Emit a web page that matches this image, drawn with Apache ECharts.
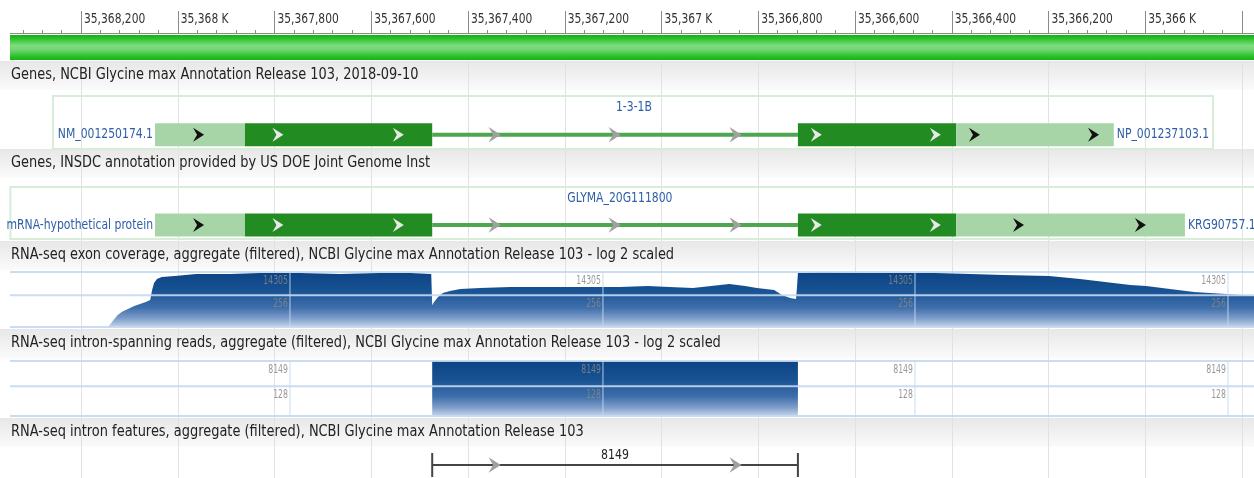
<!DOCTYPE html>
<html>
<head>
<meta charset="utf-8">
<script src="https://cdn.jsdelivr.net/npm/echarts@6/dist/echarts.min.js"></script>
<style>
  html, body { margin: 0; padding: 0; background: #fff; }
  #chart { width: 1254px; height: 478px; }
</style>
</head>
<body>
<div id="chart"></div>
<script>
// ---- data ----
const VIEW_MIN = 35365600;   // right edge (axis is inverted)
const VIEW_MAX = 35368400;   // left edge
const RULER_LABELS = [35368200, 35368000, 35367800, 35367600, 35367400, 35367200,
    35367000, 35366800, 35366600, 35366400, 35366200, 35366000];

const TRACK_TITLES = [
    'Genes, NCBI Glycine max Annotation Release 103, 2018-09-10',
    'Genes, INSDC annotation provided by US DOE Joint Genome Inst',
    'RNA-seq exon coverage, aggregate (filtered), NCBI Glycine max Annotation Release 103 - log 2 scaled',
    'RNA-seq intron-spanning reads, aggregate (filtered), NCBI Glycine max Annotation Release 103 - log 2 scaled',
    'RNA-seq intron features, aggregate (filtered), NCBI Glycine max Annotation Release 103'
];

// gene models: [from, to, kind]
const GENE1_PARTS = [
    [35368047, 35367861, 'utr'],
    [35367861, 35367474, 'cds'],
    [35367474, 35366718, 'intron'],
    [35366718, 35366391, 'cds'],
    [35366391, 35366065, 'utr']
];
const GENE1_ARROWS = [35367958, 35367794, 35367545, 35367346, 35367098, 35366848,
    35366681, 35366435, 35366354, 35366108];
const GENE1_LABELS = ['1-3-1B', 'NM_001250174.1', 'NP_001237103.1'];
const GENE1_NAME_AT = 35367057;
const GENE1_BOX = [35368258, 35365860];

const GENE2_PARTS = [
    [35368047, 35367861, 'utr'],
    [35367861, 35367474, 'cds'],
    [35367474, 35366718, 'intron'],
    [35366718, 35366391, 'cds'],
    [35366391, 35365918, 'utr']
];
const GENE2_ARROWS = [35367958, 35367794, 35367545, 35367346, 35367098, 35366848,
    35366681, 35366435, 35366263, 35366011];
const GENE2_LABELS = ['GLYMA_20G111800', 'mRNA-hypothetical protein', 'KRG90757.1'];
const GENE2_NAME_AT = 35367086;
const GENE2_BOX = [35368346, 35365600];

// exon coverage (reads, log2 axis)
const COV_POS = [35368144, 35368140, 35368134, 35368124, 35368115, 35368103, 35368090,
    35368078, 35368066, 35368057, 35368053, 35368049, 35368043, 35368033, 35368006,
    35367962, 35367892, 35367830, 35367747, 35367665, 35367582, 35367520, 35367476,
    35367474, 35367470, 35367462, 35367452, 35367437, 35367416, 35367375, 35367313,
    35367210, 35367127, 35367086, 35367028, 35366984, 35366935, 35366860, 35366827,
    35366803, 35366767, 35366751, 35366734, 35366722, 35366720, 35366718, 35366668,
    35366569, 35366501, 35366435, 35366362, 35366292, 35366199, 35366135, 35366083,
    35366031, 35365998, 35365949, 35365899, 35365833, 35365775, 35365700];
const COV_DEPTH = [1, 1, 3, 8, 14, 23, 39,
    55, 77, 110, 625, 2100, 4230, 5990, 7130,
    10100, 10100, 12000, 12000, 10100, 12000, 12000, 10100,
    46, 77, 185, 371, 525, 743, 885, 1050,
    1050, 1050, 1050, 1250, 1050, 885, 1770, 1250,
    885, 625, 262, 155, 130, 885, 12000, 13500,
    12000, 12000, 12000, 10100, 8490, 7130, 4230, 2515,
    1490, 1250, 743, 441, 312, 220, 215];
const COV_SCALE = [14305, 256];
const JUNC_SCALE = [8149, 128];
const SCALE_COLS = [35367768, 35367121, 35366476, 35365829];

// intron / junction
const INTRON = [35367474, 35366718];
const INTRON_READS = 8149;
const INTRON_ARROWS = [35367346, 35366848];

// ---- layout / style ----
const FONT = '"Liberation Sans Narrow", "Arial Narrow", "DejaVu Sans Condensed", sans-serif';
const PX_PER_BP = 96.75 / 200;
const GRID_LEFT = 81 - (VIEW_MAX - 35368200) * PX_PER_BP;
const GRID_WIDTH = (VIEW_MAX - VIEW_MIN) * PX_PER_BP;
const ROW_Y = 0.27, NAME_Y = 0.78;
const BAR_H = 23, INTRON_H = 4;
const PART_COLORS = { utr: '#a8d5a8', cds: '#228b22', intron: '#4ea64e' };
const CHEVRON_COLORS = { utr: '#111', cds: '#e8e8e8', intron: '#a0a0a0' };
const LINK_BLUE = '#2f5fa6';
const FRAME = 'rgba(196,216,240,0.9)';

const chart = echarts.init(document.getElementById('chart'));

function chevron(x, y, color, k) {
    k = k || 1;
    return {
        type: 'polygon',
        shape: { points: [[x + 6 * k, y], [x - 5 * k, y - 7 * k], [x - 1 * k, y], [x - 5 * k, y + 7 * k]] },
        style: { fill: color }
    };
}

function posLabel(v) {
    return v % 1000 === 0 ? (v / 1000).toLocaleString('en-US') + ' K' : v.toLocaleString('en-US');
}

function geneRenderer(parts, arrows, box, nameAt, labels) {
    return function (params, api) {
        const px = bp => api.coord([bp, 0])[0];
        const py = v => api.coord([VIEW_MAX, v])[1];
        const yRow = py(ROW_Y);
        const kids = [{
            type: 'rect',
            shape: { x: px(box[0]), y: py(1), width: px(box[1]) - px(box[0]), height: py(0) - py(1) },
            style: { fill: 'none', stroke: '#d8edd8', lineWidth: 2 }
        }];
        parts.forEach(([s, e, kind]) => {
            const h = kind === 'intron' ? INTRON_H : BAR_H;
            kids.push({
                type: 'rect',
                shape: { x: px(s), y: yRow - h / 2, width: px(e) - px(s), height: h },
                style: { fill: PART_COLORS[kind] }
            });
        });
        arrows.forEach(bp => {
            const part = parts.find(p => bp <= p[0] && bp >= p[1]);
            kids.push(chevron(px(bp), yRow, CHEVRON_COLORS[part[2]], part[2] === 'intron' ? 1.1 : 1));
        });
        const txt = { font: '14px ' + FONT, fill: LINK_BLUE, verticalAlign: 'middle' };
        const label = (x, y, text, align) => ({
            type: 'text', x: x, y: y, scaleX: 0.86,
            style: Object.assign({ text: text, align: align }, txt)
        });
        kids.push(label(px(nameAt), py(NAME_Y), labels[0], 'center'));
        kids.push(label(px(parts[0][0]) - 2, yRow, labels[1], 'right'));
        kids.push(label(px(parts[parts.length - 1][1]) + 3, yRow, labels[2], 'left'));
        return { type: 'group', children: kids };
    };
}

function scaleFrame(idx, levels) {
    return {
        type: 'custom', xAxisIndex: idx, yAxisIndex: idx, z: 5, silent: true,
        data: SCALE_COLS.map(c => [c, levels[0]]),
        renderItem(params, api) {
            const x = api.coord([api.value(0), 1])[0];
            const yTop = api.coord([VIEW_MAX, levels[0]])[1];
            const yMid = api.coord([VIEW_MAX, levels[1]])[1];
            const yBot = api.coord([VIEW_MAX, 1])[1];
            const lbl = { font: '12px ' + FONT, fill: 'rgba(135,135,135,0.85)', align: 'right', verticalAlign: 'top' };
            const kids = [
                { type: 'line', shape: { x1: x, y1: yTop, x2: x, y2: yBot }, style: { stroke: FRAME, lineWidth: 1 } },
                { type: 'text', x: x - 2, y: yTop + 3, scaleX: 0.72, style: Object.assign({ text: String(levels[0]) }, lbl) },
                { type: 'text', x: x - 2, y: yMid + 3, scaleX: 0.72, style: Object.assign({ text: String(levels[1]) }, lbl) }
            ];
            if (params.dataIndex === 0) {
                [yTop, yMid, yBot].forEach(y => kids.push({
                    type: 'line', shape: { x1: 10, y1: y, x2: 1254, y2: y },
                    style: { stroke: FRAME, lineWidth: 2 }
                }));
            }
            return { type: 'group', children: kids };
        }
    };
}

const blueFill = () => new echarts.graphic.LinearGradient(0, 0, 0, 1, [
    { offset: 0, color: '#0b4383' },
    { offset: 0.35, color: '#1a5394' },
    { offset: 0.65, color: '#3f6fab' },
    { offset: 0.85, color: '#809fcb' },
    { offset: 1, color: '#c6d5ea' }
]);

// grids: ruler, background, gene1, gene2, coverage, junctions, intron features
const GRID_ROWS = [[33, 27], [61, 417], [96, 53], [187, 52], [272, 55], [361, 55], [447, 31]];
const grids = GRID_ROWS.map(([top, height]) => ({
    left: GRID_LEFT, width: GRID_WIDTH, top: top, height: height,
    outerBoundsMode: 'none', containLabel: false
}));

const baseX = {
    type: 'value', min: VIEW_MIN, max: VIEW_MAX, inverse: true, interval: 200,
    axisLine: { show: false, onZero: false }, axisTick: { show: false }, axisLabel: { show: false },
    splitLine: { show: false }
};
const xAxes = GRID_ROWS.map((_, i) => Object.assign({}, baseX, { gridIndex: i }));
xAxes[0] = Object.assign({}, baseX, {
    gridIndex: 0, position: 'top',
    axisLine: { show: true, onZero: false, lineStyle: { color: '#8a8a8a', width: 1 } },
    axisTick: { show: true, length: 22, lineStyle: { color: '#8a8a8a' } },
    minorTick: { show: true, splitNumber: 5, length: 3, lineStyle: { color: '#8a8a8a' } },
    axisLabel: { show: false }
});
xAxes[1] = Object.assign({}, baseX, {
    gridIndex: 1,
    splitLine: { show: true, lineStyle: { color: '#e2e2e2', width: 1 } }
});

const yAxes = GRID_ROWS.map((_, i) => ({ type: 'value', gridIndex: i, min: 0, max: 1, show: false }));
yAxes[4] = { type: 'log', logBase: 2, gridIndex: 4, min: 1, max: COV_SCALE[0], show: false };
yAxes[5] = { type: 'log', logBase: 2, gridIndex: 5, min: 1, max: JUNC_SCALE[0], show: false };

// header bands + green bar
const HEADER_TOPS = [61, 149, 241, 329, 418];
const graphics = [];
HEADER_TOPS.forEach((top, i) => {
    graphics.push({
        type: 'rect', z: -1, silent: true,
        shape: { x: 0, y: top, width: 1254, height: 29 },
        style: { fill: new echarts.graphic.LinearGradient(0, 0, 0, 1, [
            { offset: 0, color: '#e7e7e7' }, { offset: 1, color: '#fbfbfb' }]) }
    });
    graphics.push({
        type: 'text', z: 2, silent: true, x: 11, y: top + 14, scaleX: 0.9,
        style: { text: TRACK_TITLES[i], font: '16px ' + FONT, fill: '#222', verticalAlign: 'middle' }
    });
});
graphics.push({
    type: 'rect', z: -1, silent: true,
    shape: { x: 10, y: 35, width: 1244, height: 25 },
    style: { fill: new echarts.graphic.LinearGradient(0, 0, 0, 1, [
        { offset: 0, color: '#17ad17' }, { offset: 0.15, color: '#2ac42a' },
        { offset: 0.42, color: '#7fdb7f' }, { offset: 0.6, color: '#6fd46f' },
        { offset: 0.85, color: '#2ac22a' }, { offset: 1, color: '#18b018' }]) }
});
graphics.push({
    type: 'rect', z: 10, silent: true,
    shape: { x: 0, y: 0, width: 10, height: 34 }, style: { fill: '#fff' }
});

const option = {
    animation: false,
    backgroundColor: '#fff',
    grid: grids,
    xAxis: xAxes,
    yAxis: yAxes,
    graphic: graphics,
    series: [
        {
            name: 'ruler labels', type: 'custom', xAxisIndex: 0, yAxisIndex: 0, z: 4, silent: true,
            data: RULER_LABELS.map(v => [v, 1]),
            renderItem(params, api) {
                const p = api.coord([api.value(0), 1]);
                return {
                    type: 'text', x: p[0] + 3, y: p[1] - 14, scaleX: 0.85,
                    style: { text: posLabel(api.value(0)), font: '14px ' + FONT, fill: '#333', verticalAlign: 'middle' }
                };
            }
        },
        {
            type: 'custom', xAxisIndex: 2, yAxisIndex: 2, z: 3, silent: true,
            data: [[GENE1_PARTS[0][0], ROW_Y]],
            renderItem: geneRenderer(GENE1_PARTS, GENE1_ARROWS, GENE1_BOX, GENE1_NAME_AT, GENE1_LABELS)
        },
        {
            type: 'custom', xAxisIndex: 3, yAxisIndex: 3, z: 3, silent: true,
            data: [[GENE2_PARTS[0][0], ROW_Y]],
            renderItem: geneRenderer(GENE2_PARTS, GENE2_ARROWS, GENE2_BOX, GENE2_NAME_AT, GENE2_LABELS)
        },
        {
            name: 'exon coverage', type: 'line', xAxisIndex: 4, yAxisIndex: 4, z: 3,
            data: COV_POS.map((p, i) => [p, COV_DEPTH[i]]),
            showSymbol: false, symbol: 'none', silent: true,
            lineStyle: { width: 0 },
            areaStyle: { origin: 'start', color: blueFill(), opacity: 1 }
        },
        scaleFrame(4, COV_SCALE),
        {
            name: 'intron-spanning reads', type: 'custom', xAxisIndex: 5, yAxisIndex: 5, z: 3, silent: true,
            data: [[INTRON[0], INTRON[1], INTRON_READS]],
            encode: { x: [0, 1], y: 2 },
            renderItem(params, api) {
                const a = api.coord([api.value(0), api.value(2)]);
                const b = api.coord([api.value(1), 1]);
                return { type: 'rect', shape: { x: a[0], y: a[1], width: b[0] - a[0], height: b[1] - a[1] },
                    style: { fill: blueFill() } };
            }
        },
        scaleFrame(5, JUNC_SCALE),
        {
            name: 'intron features', type: 'custom', xAxisIndex: 6, yAxisIndex: 6, z: 3, silent: true,
            data: [[INTRON[0], INTRON[1], INTRON_READS]],
            encode: { x: [0, 1] },
            renderItem(params, api) {
                const x0 = api.coord([api.value(0), 0.42])[0];
                const x1 = api.coord([api.value(1), 0.42])[0];
                const y = api.coord([VIEW_MAX, 0.42])[1];
                const ink = { stroke: '#444', lineWidth: 2 };
                const kids = [
                    { type: 'line', shape: { x1: x0, y1: y, x2: x1, y2: y }, style: ink },
                    { type: 'line', shape: { x1: x0, y1: y - 12, x2: x0, y2: y + 12 }, style: ink },
                    { type: 'line', shape: { x1: x1, y1: y - 12, x2: x1, y2: y + 12 }, style: ink },
                    { type: 'text', x: (x0 + x1) / 2, y: y - 3, scaleX: 0.87,
                      style: { text: String(api.value(2)), font: '14px ' + FONT, fill: '#222', align: 'center', verticalAlign: 'bottom' } }
                ];
                INTRON_ARROWS.forEach(bp => kids.push(chevron(api.coord([bp, 0.42])[0], y, CHEVRON_COLORS.intron, 1.1)));
                return { type: 'group', children: kids };
            }
        }
    ]
};

chart.setOption(option);
window.addEventListener('resize', () => chart.resize());
</script>
</body>
</html>
